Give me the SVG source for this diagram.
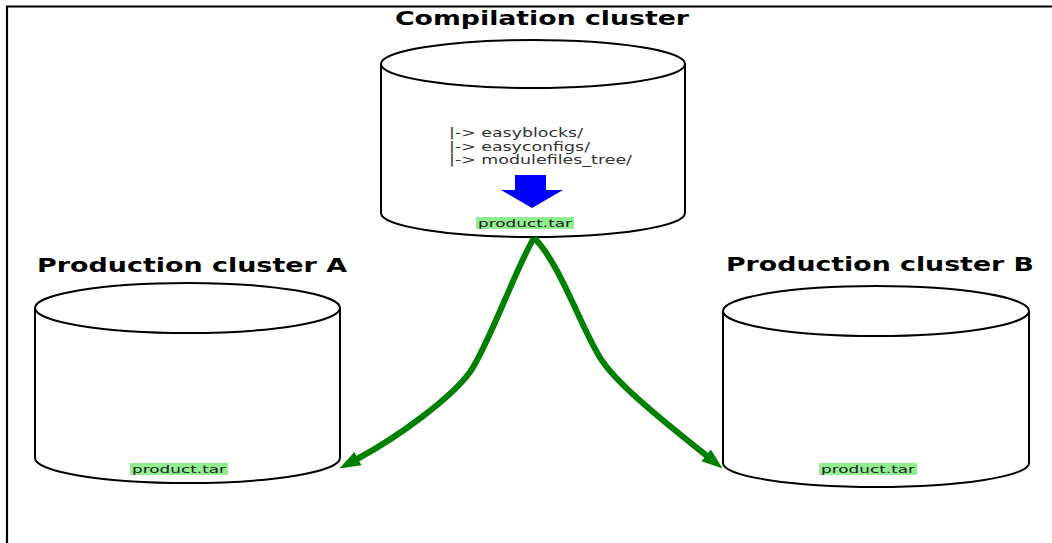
<svg xmlns="http://www.w3.org/2000/svg" width="1052" height="543" viewBox="0 0 1052 543">
  <style>
    .frame { fill: none; stroke: #000; stroke-width: 2.2; }
    .cyl { fill: #fff; stroke: #000; stroke-width: 2; }
    .title { font-family: "DejaVu Sans", "Liberation Sans", sans-serif; font-weight: bold; font-size: 19px; fill: #000; }
    .body { font-family: "DejaVu Sans", "Liberation Sans", sans-serif; font-size: 12.5px; fill: #333; }
    .tag { font-family: "DejaVu Sans", "Liberation Sans", sans-serif; font-size: 11px; fill: #222; }
    .hl { fill: #90ee90; }
    .flow { fill: none; stroke: #008000; stroke-width: 6; }
  </style>
  <defs>
    <marker id="greenHead" markerUnits="userSpaceOnUse" markerWidth="22" markerHeight="16" refX="0" refY="0" viewBox="0 -8 22 16" orient="auto" overflow="visible">
      <path d="M-1,-7.5 L20,0 L-1,7.5 Z" fill="#008000"/>
    </marker>
  </defs>

  <rect width="1052" height="543" fill="#fff"/>
  <path class="frame" d="M7,543 V6.5 H1052"/>

  <!-- compilation cluster -->
  <g id="compilation">
    <text class="title" x="395" y="25" textLength="294" lengthAdjust="spacingAndGlyphs">Compilation cluster</text>
    <path class="cyl" d="M381,64 V213 A152,24 0 0 0 685,213 V64"/>
    <ellipse class="cyl" cx="533" cy="64" rx="152" ry="24"/>
    <text class="body" x="449" y="137" textLength="134" lengthAdjust="spacingAndGlyphs">|-&gt; easyblocks/</text>
    <text class="body" x="449" y="150.5" textLength="141" lengthAdjust="spacingAndGlyphs">|-&gt; easyconfigs/</text>
    <text class="body" x="449" y="164" textLength="183" lengthAdjust="spacingAndGlyphs">|-&gt; modulefiles_tree/</text>
    <polygon points="515,175 546,175 546,190 563,190 532,208 501,190 515,190" fill="#0000ff"/>
    <rect class="hl" x="476" y="217" width="98" height="12"/>
    <text class="tag" x="478" y="227" textLength="94" lengthAdjust="spacingAndGlyphs">product.tar</text>
  </g>

  <!-- production cluster A -->
  <g id="production-a">
    <text class="title" x="37" y="272" textLength="310" lengthAdjust="spacingAndGlyphs">Production cluster A</text>
    <path class="cyl" d="M35,308 V458 A152.5,25 0 0 0 340,458 V308"/>
    <ellipse class="cyl" cx="187.5" cy="308" rx="152.5" ry="25"/>
    <rect class="hl" x="130" y="463" width="98" height="12"/>
    <text class="tag" x="132" y="472.5" textLength="94" lengthAdjust="spacingAndGlyphs">product.tar</text>
  </g>

  <!-- production cluster B -->
  <g id="production-b">
    <text class="title" x="726" y="271" textLength="308" lengthAdjust="spacingAndGlyphs">Production cluster B</text>
    <path class="cyl" d="M723,311 V463 A153,24 0 0 0 1029,463 V311"/>
    <ellipse class="cyl" cx="876" cy="311" rx="153" ry="25"/>
    <rect class="hl" x="819" y="463" width="98" height="12"/>
    <text class="tag" x="821" y="472.5" textLength="94" lengthAdjust="spacingAndGlyphs">product.tar</text>
  </g>

  <!-- distribution of the tarball -->
  <g id="connectors">
    <path class="flow" marker-end="url(#greenHead)" d="M534,238 C517,265 488,347 470,372 C452,397 400,436 357,459"/>
    <path class="flow" marker-end="url(#greenHead)" d="M534,238 C560,262 585,338 603,362 C621,388 672,428 707,456"/>
  </g>
</svg>
